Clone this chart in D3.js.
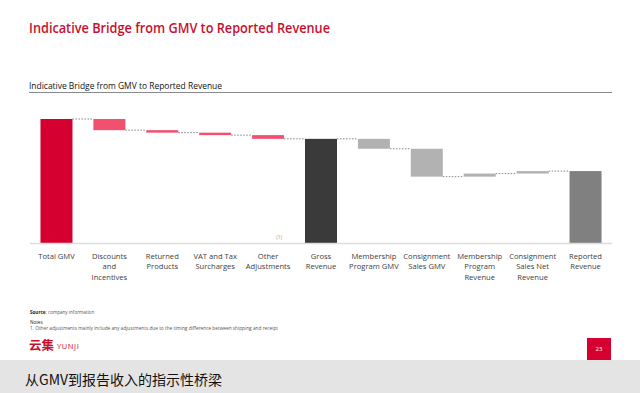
<!DOCTYPE html>
<html>
<head>
<meta charset="utf-8">
<script src="https://cdn.jsdelivr.net/npm/d3@7"></script>
<style>
    html, body { margin: 0; padding: 0; background: #fff; }
    svg { display: block; }
    .label { font-family: "Open Sans", sans-serif; font-size: 7.6px; fill: #404040; }
</style>
</head>
<body>
<div id="container"></div>
<script>
// bridge data (Total GMV = 100)
var categories = ["Total GMV", "Discounts and Incentives", "Returned Products", "VAT and Tax Surcharges",
    "Other Adjustments", "Gross Revenue", "Membership Program GMV", "Consignment Sales GMV",
    "Membership Program Revenue", "Consignment Sales Net Revenue", "Reported Revenue"];
var labelLines = [["Total GMV"], ["Discounts", "and", "Incentives"], ["Returned", "Products"],
    ["VAT and Tax", "Surcharges"], ["Other", "Adjustments"], ["Gross", "Revenue"],
    ["Membership", "Program GMV"], ["Consignment", "Sales GMV"], ["Membership", "Program", "Revenue"],
    ["Consignment", "Sales Net", "Revenue"], ["Reported", "Revenue"]];
var kinds = ["total", "delta", "delta", "delta", "delta", "total", "delta", "delta", "delta", "delta", "total"];
var values = [100, -9, -2, -2, -3, 84, -8, -22.5, 2.5, 2, 58];
var barColors = ["#d5002f", "#f2506f", "#f2506f", "#f2506f", "#f2506f", "#3a3a3a",
    "#b2b2b2", "#b2b2b2", "#b2b2b2", "#b2b2b2", "#808080"];

var width = 640, height = 393;

var svg = d3.select("#container").append("svg")
    .attr("width", width)
    .attr("height", height);

// slide title
svg.append("text")
    .attr("x", 29).attr("y", 33)
    .attr("textLength", 301).attr("lengthAdjust", "spacingAndGlyphs")
    .style("font-family", "'Open Sans', sans-serif")
    .style("font-weight", 600)
    .style("font-size", "13.5px")
    .style("fill", "#c8102e")
    .text("Indicative Bridge from GMV to Reported Revenue");

// chart title + rule
svg.append("text")
    .attr("x", 29).attr("y", 89)
    .attr("textLength", 193).attr("lengthAdjust", "spacingAndGlyphs")
    .style("font-family", "'Open Sans', sans-serif")
    .style("font-size", "8.5px")
    .style("fill", "#111")
    .text("Indicative Bridge from GMV to Reported Revenue");
svg.append("line")
    .attr("x1", 29).attr("x2", 612).attr("y1", 92.5).attr("y2", 92.5)
    .style("stroke", "#8a8a8a").style("stroke-width", 1);

// waterfall: compute start / end of each bar
var running = 0;
var bars = categories.map(function(c, i) {
    var d = {name: c, lines: labelLines[i], color: barColors[i], kind: kinds[i]};
    if (kinds[i] === "total") {
        d.start = 0; d.end = values[i]; running = values[i];
    } else {
        d.start = running; d.end = running + values[i]; running = d.end;
    }
    return d;
});

var x = d3.scaleBand()
    .domain(categories)
    .range([30, 612])
    .paddingInner(0.395)
    .paddingOuter(0.198);

var y = d3.scaleLinear()
    .domain([0, 100])
    .range([243, 119]);

var chartGroup = svg.append("g").attr("class", "chartGroup");

// dotted connectors between bars
chartGroup.selectAll("line.connector")
    .data(bars.slice(0, -1))
    .enter().append("line")
    .attr("class", "connector")
    .attr("x1", function(d) { return x(d.name) + x.bandwidth(); })
    .attr("x2", function(d, i) { return x(categories[i + 1]); })
    .attr("y1", function(d) { return y(d.end); })
    .attr("y2", function(d) { return y(d.end); })
    .style("stroke", "#666")
    .style("stroke-width", 0.8)
    .style("stroke-dasharray", "1.5,1.5");

chartGroup.selectAll("rect.bar")
    .data(bars)
    .enter().append("rect")
    .attr("class", "bar")
    .attr("x", function(d) { return x(d.name); })
    .attr("width", x.bandwidth())
    .attr("y", function(d) { return y(Math.max(d.start, d.end)); })
    .attr("height", function(d) { return Math.abs(y(d.start) - y(d.end)); })
    .style("fill", function(d) { return d.color; });

// baseline
chartGroup.append("line")
    .attr("x1", 30).attr("x2", 612)
    .attr("y1", y(0) + 0.5).attr("y2", y(0) + 0.5)
    .style("stroke", "#dcdcdc").style("stroke-width", 1.5);

// footnote marker on Other Adjustments
chartGroup.append("text")
    .attr("x", x("Other Adjustments") + x.bandwidth() - 2)
    .attr("y", y(0) - 4)
    .attr("text-anchor", "end")
    .style("font-family", "'Open Sans', sans-serif")
    .style("font-size", "5px")
    .style("fill", "#999")
    .text("(1)");

// category labels
var labels = chartGroup.selectAll("text.label")
    .data(bars)
    .enter().append("text")
    .attr("class", "label")
    .attr("text-anchor", "middle")
    .attr("transform", function(d) { return "translate(" + (x(d.name) + x.bandwidth() / 2) + "," + 258.5 + ")"; });
labels.selectAll("tspan")
    .data(function(d) { return d.lines; })
    .enter().append("tspan")
    .attr("x", 0)
    .attr("dy", function(d, i) { return i === 0 ? 0 : 10.6; })
    .text(function(d) { return d; });

// source / notes
var small = svg.append("g")
    .style("font-family", "'Open Sans', sans-serif")
    .style("fill", "#555");
small.append("text").attr("x", 30).attr("y", 314).style("font-size", "4.6px")
    .html("<tspan style='font-weight:700;fill:#222'>Source</tspan>: company information");
small.append("text").attr("x", 30).attr("y", 323.5).style("font-size", "4.6px").style("fill", "#222")
    .text("Notes");
small.append("text").attr("x", 30).attr("y", 329.5).style("font-size", "4.6px")
    .attr("textLength", 248).attr("lengthAdjust", "spacingAndGlyphs")
    .text("1.  Other adjustments mainly include any adjustments due to the timing difference between shipping and receipt");

// logo
svg.append("text")
    .attr("x", 29).attr("y", 350)
    .style("font-family", "'Noto Sans CJK SC', sans-serif")
    .style("font-weight", 700)
    .style("font-size", "12.5px")
    .style("fill", "#c8102e")
    .text("云集");
svg.append("text")
    .attr("x", 57).attr("y", 349)
    .style("font-family", "'Open Sans', sans-serif")
    .style("font-size", "7.5px")
    .style("letter-spacing", "0.6px")
    .style("fill", "#c8102e")
    .text("YUNJI");

// page number
svg.append("rect")
    .attr("x", 587).attr("y", 338).attr("width", 24).attr("height", 22)
    .style("fill", "#d5002f");
svg.append("text")
    .attr("x", 599).attr("y", 351).attr("text-anchor", "middle")
    .style("font-family", "'Open Sans', sans-serif")
    .style("font-size", "6px")
    .style("fill", "#fff")
    .text("23");

// bottom caption band
svg.append("rect")
    .attr("x", 0).attr("y", 360).attr("width", width).attr("height", height - 360)
    .style("fill", "#e4e4e4");
svg.append("text")
    .attr("x", 25).attr("y", 384.5)
    .attr("textLength", 197).attr("lengthAdjust", "spacingAndGlyphs")
    .style("font-family", "'Noto Sans CJK SC', sans-serif")
    .style("font-size", "14px")
    .style("fill", "#111")
    .text("从GMV到报告收入的指示性桥梁");
</script>
</body>
</html>
